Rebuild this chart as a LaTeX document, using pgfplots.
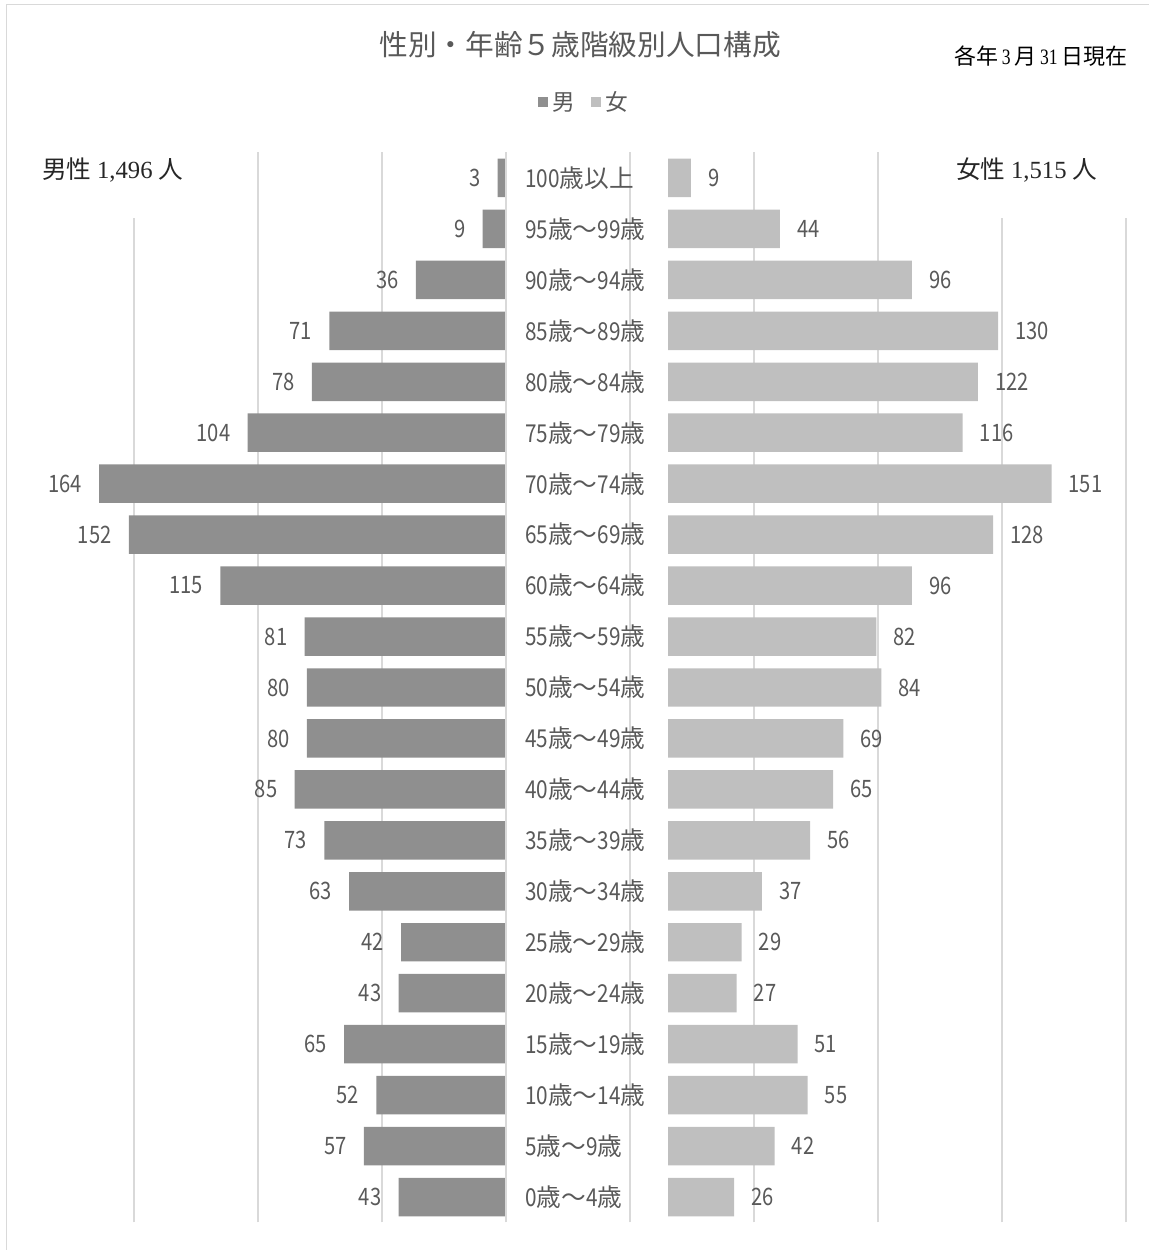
\documentclass[border=0pt]{standalone}
\usepackage{pgfplots}
\pgfplotsset{compat=1.18}
\usepackage{fontspec}
\setmainfont{Noto Sans CJK JP}
\newfontfamily\jp{Noto Sans CJK JP}
\newfontfamily\num[FakeStretch=0.84]{Noto Sans CJK JP}
\newfontfamily\serifd{Liberation Serif}
\newfontfamily\serifn[FakeStretch=0.8]{Liberation Serif}
\definecolor{male}{HTML}{8F8F8F}
\definecolor{female}{HTML}{BFBFBF}
\definecolor{txt}{HTML}{595959}
\definecolor{gridc}{HTML}{D9D9D9}
\newcommand\cat[2]{{\num #1}歳～{\num #2}歳}
\begin{document}
\begin{tikzpicture}
\useasboundingbox (0,0) rectangle (861.75pt,937.5pt);
\pgfplotsset{
  base/.style={scale only axis, height=802.5pt, ymin=-0.5, ymax=20.5,
    axis line style={draw=none}, major tick length=0pt, clip=false,
    xtick=\empty, /pgf/number format/assume math mode=true}
}
% grid axis
\begin{axis}[base, at={(7.5pt,20.625pt)}, anchor=south west,
  width=847.5pt, xmin=10, xmax=1140,
  xtick={134,258,382,506,630,754,878,1002,1126}, xticklabels={},
  xmajorgrids, major grid style={draw=gridc, line width=1.6pt},
  ytick=\empty]
\end{axis}
% male axis
\begin{axis}[base, at={(378.75pt,20.625pt)}, anchor=south east,
  width=371.25pt, xmin=0, xmax=200, x dir=reverse, ytick=\empty]
\addplot[xbar, bar width=0.755, fill=male, draw=none,
  nodes near coords={\num\pgfmathprintnumber[assume math mode=true]{\pgfplotspointmeta}},
  nodes near coords style={anchor=east, inner sep=0pt, xshift=-12.75pt,
    font=\num\fontsize{18}{18}\selectfont, text=txt}]
  table[x=v, y=i] {
i v
20 3
19 9
18 36
17 71
16 78
15 104
14 164
13 152
12 115
11 81
10 80
9 80
8 85
7 73
6 63
5 42
4 43
3 65
2 52
1 57
0 43
};
\end{axis}
% female axis
\begin{axis}[base, at={(501pt,20.625pt)}, anchor=south west,
  width=352.4pt, xmin=0, xmax=185,
  ytick={0,...,20},
  yticklabels={{\cat{0}{4}},{\cat{5}{9}},{\cat{10}{14}},{\cat{15}{19}},
    {\cat{20}{24}},{\cat{25}{29}},{\cat{30}{34}},{\cat{35}{39}},
    {\cat{40}{44}},{\cat{45}{49}},{\cat{50}{54}},{\cat{55}{59}},
    {\cat{60}{64}},{\cat{65}{69}},{\cat{70}{74}},{\cat{75}{79}},
    {\cat{80}{84}},{\cat{85}{89}},{\cat{90}{94}},{\cat{95}{99}},
    {{\num 100}歳以上}},
  yticklabel style={anchor=west, inner sep=0pt, xshift=-107.25pt,
    font=\jp\fontsize{18.5}{18.5}\selectfont, text=txt}]
\addplot[xbar, bar width=0.755, fill=female, draw=none,
  nodes near coords={\num\pgfmathprintnumber[assume math mode=true]{\pgfplotspointmeta}},
  nodes near coords style={anchor=west, inner sep=0pt, xshift=12.75pt,
    font=\num\fontsize{18}{18}\selectfont, text=txt}]
  table[x=v, y=i] {
i v
20 9
19 44
18 96
17 130
16 122
15 116
14 151
13 128
12 96
11 82
10 84
9 69
8 65
7 56
6 37
5 29
4 27
3 51
2 55
1 42
0 26
};
\end{axis}
\begin{scope}[x=0.75pt, y=-0.75pt, yshift=937.5pt]
  % frame
  \draw[gridc, line width=1.1pt] (6.5,1260) -- (6.5,4.5) -- (1160,4.5);
  % white boxes over gridlines
  \fill[white] (20,150) rectangle (210,218);
  \fill[white] (935,150) rectangle (1145,218);
  % title
  \node[text=txt, font=\jp\fontsize{21.5}{21.5}\selectfont] at (580,45)
    {性別・年齢５歳階級別人口構成};
  \node[anchor=west, text=black, inner sep=0pt,
    font=\jp\fontsize{16.5}{16.5}\selectfont] at (954,56)
    {各年\,{\serifn 3}\,月\,{\serifn 31}\,日現在};
  % legend
  \fill[male] (538,97) rectangle (548,107);
  \node[anchor=west, inner sep=0pt, text=txt,
    font=\jp\fontsize{17}{17}\selectfont] at (552,102) {男};
  \fill[female] (591,97) rectangle (601,107);
  \node[anchor=west, inner sep=0pt, text=txt,
    font=\jp\fontsize{17}{17}\selectfont] at (605,102) {女};
  % totals
  \node[anchor=west, inner sep=0pt, text=black!85,
    font=\jp\fontsize{18.5}{18.5}\selectfont] at (42,170)
    {男性 {\serifd 1,496} 人};
  \node[anchor=west, inner sep=0pt, text=black!85,
    font=\jp\fontsize{18.5}{18.5}\selectfont] at (956,170)
    {女性 {\serifd 1,515} 人};
\end{scope}
\end{tikzpicture}
\end{document}
